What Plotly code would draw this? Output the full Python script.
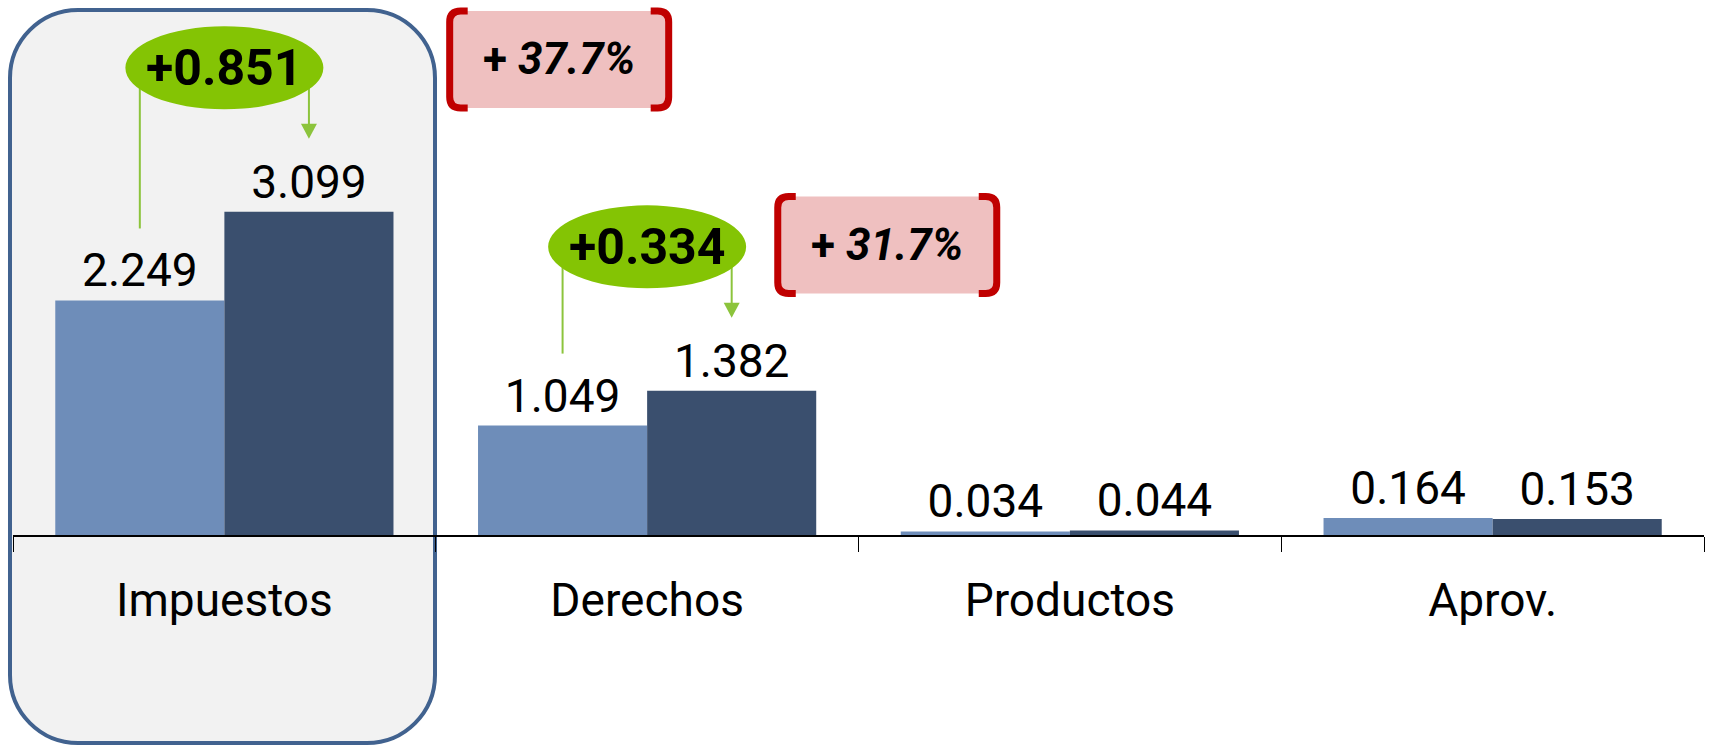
import plotly.graph_objects as go

# ---------------- data ----------------
categories = ["Impuestos", "Derechos", "Productos", "Aprov."]
prev_values = [2.249, 1.049, 0.034, 0.164]
curr_values = [3.099, 1.382, 0.044, 0.153]
diff_labels = ["+0.851", "+0.334"]          # for Impuestos, Derechos
pct_labels = ["37.7%", "31.7%"]             # for Impuestos, Derechos

# ---------------- style ----------------
W, H = 1716, 747
ML, MR, MT, MB = 13, 12, 0, 212
PW, PH = W - ML - MR, H - MT - MB
YMAX = 5.13
FONT = "Roboto, 'Noto Sans', sans-serif"
LIGHT = "#6e8db9"
DARK = "#3a4f6e"
GREEN = "#84c404"
GREEN_LINE = "#8cc43c"
PINK = "#efc0c0"
RED = "#c00000"
BOX_FILL = "#f2f2f2"
BOX_LINE = "#41628f"

px_per_x = PW / len(categories)   # pixels per category unit
px_per_y = PH / YMAX              # pixels per value unit
K = 0.5523                        # bezier circle constant


def dx(px):
    return px / px_per_x


def dy(px):
    return px / px_per_y


def paper_x(px):
    return (px - ML) / PW


def paper_y(py):
    return (MT + PH - py) / PH


fig = go.Figure()
fig.add_trace(go.Bar(
    x=categories, y=prev_values, marker=dict(color=LIGHT, line=dict(width=0)),
    texttemplate="%{y:.3f}", textposition="outside", cliponaxis=False,
    textfont=dict(family=FONT, size=46, color="black"), hoverinfo="skip"))
fig.add_trace(go.Bar(
    x=categories, y=curr_values, marker=dict(color=DARK, line=dict(width=0)),
    texttemplate="%{y:.3f}", textposition="outside", cliponaxis=False,
    textfont=dict(family=FONT, size=46, color="black"), hoverinfo="skip"))

shapes = []
annotations = []

# rounded highlight box behind "Impuestos"
bx0, bx1 = paper_x(10), paper_x(435)
by_top, by_bot = paper_y(10), paper_y(743)
rx, ry = 68 / PW, 68 / PH
kx, ky = rx * (1 - K), ry * (1 - K)
path = (f"M {bx0+rx},{by_top} L {bx1-rx},{by_top} "
        f"C {bx1-kx},{by_top} {bx1},{by_top-ky} {bx1},{by_top-ry} "
        f"L {bx1},{by_bot+ry} "
        f"C {bx1},{by_bot+ky} {bx1-kx},{by_bot} {bx1-rx},{by_bot} "
        f"L {bx0+rx},{by_bot} "
        f"C {bx0+kx},{by_bot} {bx0},{by_bot+ky} {bx0},{by_bot+ry} "
        f"L {bx0},{by_top-ry} "
        f"C {bx0},{by_top-ky} {bx0+kx},{by_top} {bx0+rx},{by_top} Z")
shapes.append(dict(type="path", xref="paper", yref="paper", path=path,
                   fillcolor=BOX_FILL, line=dict(color=BOX_LINE, width=4),
                   layer="below"))

# green difference ellipses with connector lines
off = 0.2  # bar centre offset (bargap 0.2, two bars)
pct_centers = [(0.792, 4.56), (1.568, 2.78)]
for i, (lab, pct) in enumerate(zip(diff_labels, pct_labels)):
    a, b = prev_values[i], curr_values[i]
    cy = max(a, b) + dy(144)
    # left line from ellipse down to above previous label
    shapes.append(dict(type="line", xref="x", yref="y", x0=i - off, x1=i - off,
                       y0=a + dy(72), y1=cy, line=dict(color=GREEN_LINE, width=2)))
    # right arrow down to current label
    tip = b + dy(73)
    shapes.append(dict(type="line", xref="x", yref="y", x0=i + off, x1=i + off,
                       y0=tip + dy(10), y1=cy, line=dict(color=GREEN_LINE, width=2)))
    hw, hh = dx(8), dy(15)
    shapes.append(dict(type="path", xref="x", yref="y",
                       path=f"M {i+off-hw},{tip+hh} L {i+off+hw},{tip+hh} L {i+off},{tip} Z",
                       fillcolor=GREEN_LINE, line=dict(width=0)))
    # ellipse
    ex, ey = dx(99), dy(41.5)
    shapes.append(dict(type="circle", xref="x", yref="y", x0=i - ex, x1=i + ex,
                       y0=cy - ey, y1=cy + ey, fillcolor=GREEN, line=dict(width=0)))
    annotations.append(dict(x=i, y=cy, xref="x", yref="y", text=f"<b>{lab}</b>",
                            showarrow=False, font=dict(family=FONT, size=50, color="black")))

    # pink percentage box with red brackets
    pcx, pcy = pct_centers[i]
    hwb, hhb = dx(109.5), dy(48.5)
    x0, x1, y0, y1 = pcx - hwb, pcx + hwb, pcy - hhb, pcy + hhb
    shapes.append(dict(type="rect", xref="x", yref="y", x0=x0, x1=x1, y0=y0, y1=y1,
                       fillcolor=PINK, line=dict(width=0)))
    stub, rcx, rcy = dx(18), dx(11), dy(11)
    left = (f"M {x0+stub},{y1} L {x0+rcx},{y1} Q {x0},{y1} {x0},{y1-rcy} "
            f"L {x0},{y0+rcy} Q {x0},{y0} {x0+rcx},{y0} L {x0+stub},{y0}")
    right = (f"M {x1-stub},{y1} L {x1-rcx},{y1} Q {x1},{y1} {x1},{y1-rcy} "
             f"L {x1},{y0+rcy} Q {x1},{y0} {x1-rcx},{y0} L {x1-stub},{y0}")
    for p in (left, right):
        shapes.append(dict(type="path", xref="x", yref="y", path=p,
                           line=dict(color=RED, width=7)))
    annotations.append(dict(x=pcx, y=pcy, xref="x", yref="y",
                            text=f"<b>+ <i>{pct}</i></b>", showarrow=False,
                            font=dict(family=FONT, size=44, color="black")))

fig.update_layout(
    template="none",
    width=W, height=H,
    margin=dict(l=ML, r=MR, t=MT, b=MB, pad=0),
    paper_bgcolor="white", plot_bgcolor="rgba(0,0,0,0)",
    barmode="group", bargap=0.2, bargroupgap=0,
    showlegend=False,
    shapes=shapes, annotations=annotations,
    xaxis=dict(type="category", range=[-0.5, 3.5], showgrid=False, zeroline=False,
               showline=True, linecolor="black", linewidth=2,
               ticks="outside", tickson="boundaries", ticklen=15, tickwidth=1,
               tickcolor="black", ticklabelstandoff=24, automargin=False,
               tickfont=dict(family=FONT, size=46, color="black")),
    yaxis=dict(range=[0, YMAX], visible=False, showgrid=False, zeroline=False,
               automargin=False),
)

fig.write_html("out.html", config={"displayModeBar": False},
               post_script="document.body.style.margin='0';document.body.style.overflow='hidden';")
